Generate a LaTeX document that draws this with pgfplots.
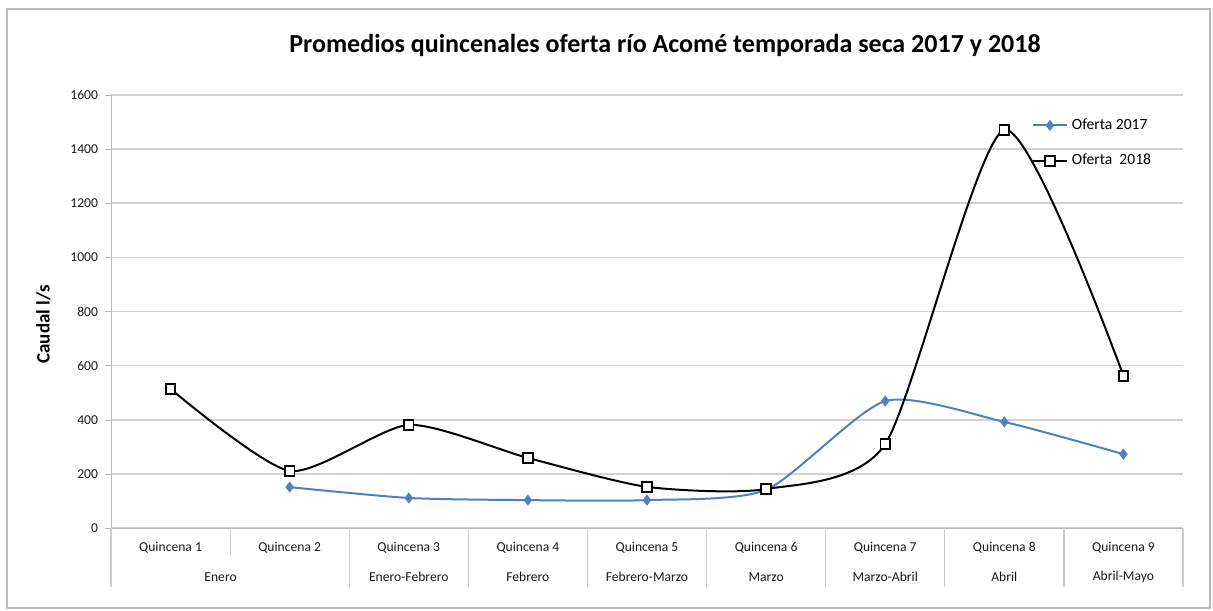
\documentclass[border=0pt]{standalone}
\usepackage{pgfplots}
\pgfplotsset{compat=1.18}
\usepackage{fontspec}
\setmainfont{Carlito}
\definecolor{c17}{HTML}{4F81BD}
\begin{document}
\begin{tikzpicture}
\useasboundingbox (0,0) rectangle (606.5pt,-305pt);
\draw[gray!55, line width=1.2pt] (3.5pt,-4.5pt) rectangle (605pt,-304pt);
\node[font=\bfseries\fontsize{13}{15}\selectfont] at (332.5pt,-22.5pt) {Promedios quincenales oferta río Acomé temporada seca 2017 y 2018};
\begin{axis}[
  at={(55.5pt,-264pt)}, anchor=south west,
  scale only axis, width=536pt, height=216.5pt,
  xmin=0.5, xmax=9.5, ymin=0, ymax=1600,
  clip=false,
  xtick={1,...,9},
  xticklabels={Quincena 1,Quincena 2,Quincena 3,Quincena 4,Quincena 5,Quincena 6,Quincena 7,Quincena 8,Quincena 9},
  ytick={0,200,...,1600},
  axis x line*=bottom, axis y line*=left,
  axis line style={draw=gray!55, -},
  ymajorgrids, grid style={gray!35, line width=0.8pt},
  x tick style={draw=none}, y tick style={gray!55},
  tick align=outside, major tick length=3pt,
  /pgf/number format/assume math mode=true,
  /pgf/number format/1000 sep={},
  ticklabel style={font=\fontsize{6.8}{8}\selectfont, text=black!90},
  xticklabel style={anchor=center, yshift=-7pt},
  yticklabel style={xshift=0pt},
  ylabel={Caudal l/s},
  every axis y label/.style={at={(axis description cs:-0.063,0.47)}, rotate=90, anchor=center, font=\bfseries\fontsize{9.5}{11}\selectfont},
  legend style={at={(axis description cs:0.853,0.965)}, anchor=north west, draw=none, fill=none, font=\fontsize{7.8}{9}\selectfont, row sep=7pt},
  legend cell align=left,
]
\addplot[color=c17, line width=1pt, smooth, tension=0.4, mark=diamond*, mark size=2pt, mark options={solid, fill=c17}]
  coordinates {(2,151)(3,111)(4,103)(5,103)(6,141)(7,469)(8,392)(9,273)};
\addlegendentry{Oferta 2017}
\addplot[black, line width=1pt, smooth, tension=0.4, mark=square*, mark size=2.4pt, mark options={solid, fill=white, line width=0.9pt}]
  coordinates {(1,514)(2,211)(3,381)(4,259)(5,152)(6,144)(7,310)(8,1471)(9,562)};
\addlegendentry{Oferta\ \ 2018}
\pgfplotsinvokeforeach{0.5,2.5,3.5,4.5,5.5,6.5,7.5,8.5,9.5}{
  \draw[gray!40, line width=0.6pt] (axis cs:#1,0) -- ([yshift=-29.5pt]axis cs:#1,0);
}
\draw[gray!40, line width=0.6pt] (axis cs:1.5,0) -- ([yshift=-13.5pt]axis cs:1.5,0);
\path[font=\fontsize{6.8}{8}\selectfont, text=black!90]
  (axis cs:1.42,0) node[yshift=-24.5pt] {Enero}
  (axis cs:3,0) node[yshift=-24.5pt] {Enero-Febrero}
  (axis cs:4,0) node[yshift=-24.5pt] {Febrero}
  (axis cs:5,0) node[yshift=-24.5pt] {Febrero-Marzo}
  (axis cs:6,0) node[yshift=-24.5pt] {Marzo}
  (axis cs:7,0) node[yshift=-24.5pt] {Marzo-Abril}
  (axis cs:8,0) node[yshift=-24.5pt] {Abril}
  (axis cs:9,0) node[yshift=-24.5pt] {Abril-Mayo};
\end{axis}
\end{tikzpicture}
\end{document}
